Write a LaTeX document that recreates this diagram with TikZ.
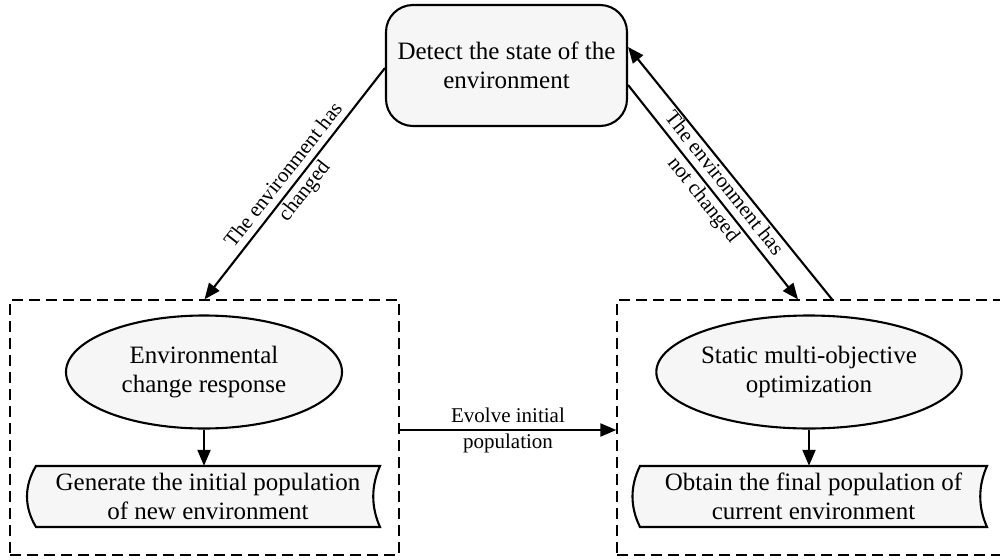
\documentclass[tikz,border=0pt]{standalone}
\usepackage{fontspec}
\setmainfont{Liberation Serif}
\usetikzlibrary{arrows.meta,shapes.geometric}
\definecolor{shapefill}{RGB}{246,246,246}
\begin{document}
\begin{tikzpicture}[x=1pt,y=-1pt,
  shp/.style={draw, line width=2.1pt, fill=shapefill, align=center, inner sep=0pt,
    font=\fontsize{25}{28.5}\selectfont},
  txt/.style={align=center, inner sep=0pt, font=\fontsize{25}{28.5}\selectfont},
  docshape/.style={draw, line width=2.1pt, fill=shapefill},
  groupbox/.style={draw, line width=1.3pt, dash pattern=on 11pt off 6pt, inner sep=0pt},
  arr/.style={line width=2.1pt, -{Triangle[length=16pt,width=13pt]}},
  lbl/.style={align=center, inner sep=0pt, font=\fontsize{21}{26}\selectfont}]
\useasboundingbox (0,0) rectangle (1000,559);

% group boxes
\node[groupbox, minimum width=389pt, minimum height=255pt] (box1) at (204.5,427.5) {};
\node[groupbox, minimum width=389pt, minimum height=255pt] (box2) at (811.5,427.5) {};

% top decision box
\node[shp, rounded corners=27pt, minimum width=241pt, minimum height=121pt] (detect) at (506.5,65.5)
  {Detect the state of the\\environment};

% ellipses
\node[shp, ellipse, minimum width=276pt, minimum height=113pt] (resp) at (204,372)
  {Environmental\\change response};
\node[shp, ellipse, minimum width=276pt, minimum height=113pt] (static) at (809,372)
  {Static multi-objective\\optimization};

% stored-data shapes
\draw[docshape] (36,466) -- (380,466) .. controls (371,486) and (371,507) .. (380,527)
  -- (36,527) .. controls (24,507) and (24,486) .. (36,466) -- cycle;
\draw[docshape] (640,466) -- (987,466) .. controls (978,486) and (978,507) .. (987,527)
  -- (640,527) .. controls (630,507) and (630,486) .. (640,466) -- cycle;
\node[txt, minimum width=344pt, minimum height=61pt] (gen) at (208,496.5)
  {Generate the initial population\\of new environment};
\node[txt, minimum width=347pt, minimum height=61pt] (obt) at (813.5,496.5)
  {Obtain the final population of\\current environment};

% connectors
\draw[arr] (resp.south) -- (resp.south |- gen.north);
\draw[arr] (static.south) -- (static.south |- obt.north);
\draw[arr] ([yshift=-2.5pt]detect.west) -- node[lbl, rotate=51.8] {The environment has\\changed} (box1.north);
\draw[arr] ([yshift=-19.5pt]detect.east) -- node[lbl, rotate=-51.5] {The environment has\\not changed} ([xshift=-13.5pt]box2.north);
\draw[arr] ([xshift=20.5pt]box2.north) -- ([yshift=18.5pt]detect.east);
\draw[arr] ([yshift=-2.5pt]box1.east) -- node[lbl] {Evolve initial\\population} ([yshift=-2.5pt]box2.west);
\end{tikzpicture}
\end{document}
